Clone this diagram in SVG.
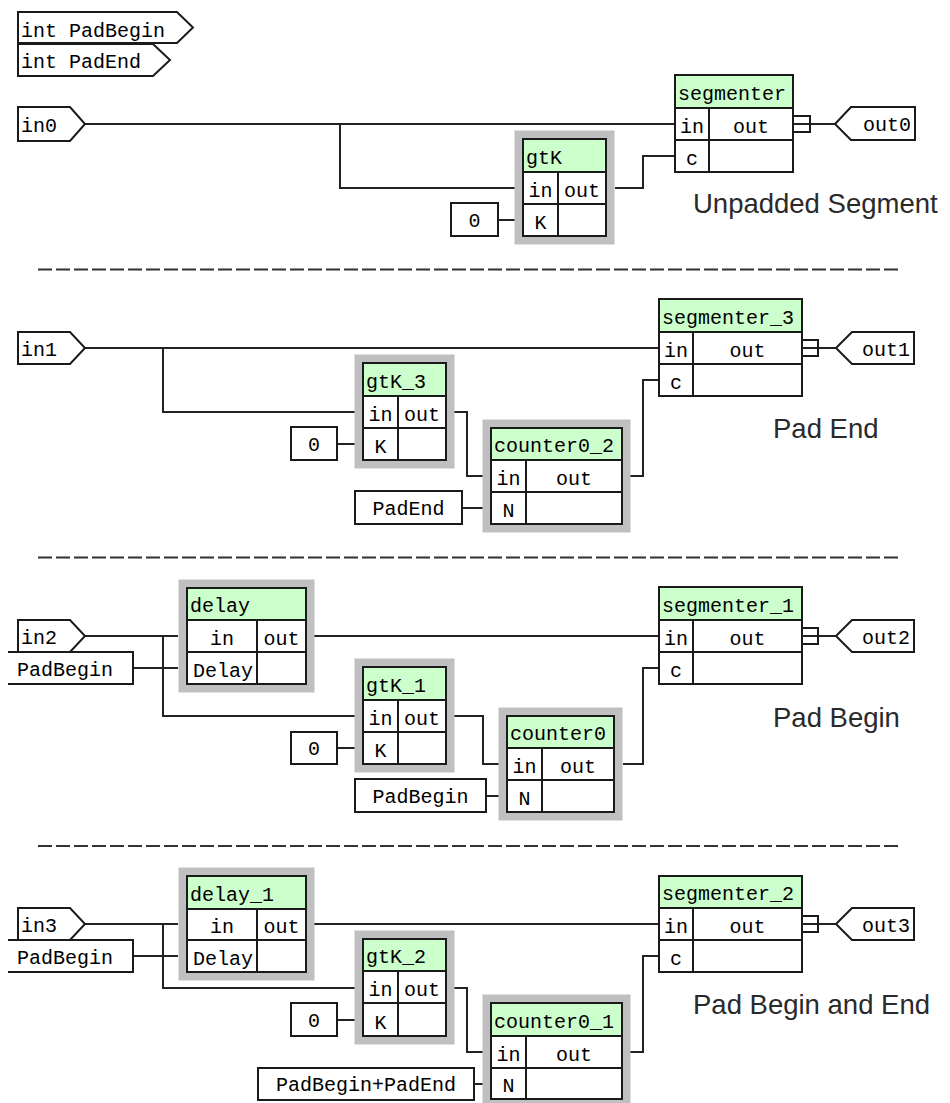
<svg xmlns="http://www.w3.org/2000/svg" width="950" height="1103" viewBox="0 0 950 1103">
<style>
.bg{fill:#fff}
.shd{fill:#c0c0c0}
.box{fill:#fff;stroke:#1a1a1a;stroke-width:2}
.hdr{fill:#ccffcc;stroke:#1a1a1a;stroke-width:2}
.ln{fill:none;stroke:#1a1a1a;stroke-width:2}
.w{fill:none;stroke:#222;stroke-width:2}
.dash{fill:none;stroke:#333;stroke-width:2.2;stroke-dasharray:14 4}
.m{font-family:"Liberation Mono","DejaVu Sans Mono",monospace;font-size:20px;fill:#000}
.c{text-anchor:middle}
.e{text-anchor:end}
.lbl{font-family:"Liberation Sans",Arial,sans-serif;font-size:27.5px;fill:#2a2a2a}
</style>
<rect class="bg" x="0" y="0" width="950" height="1103"/>

<g id="separators">
<path class="dash" d="M38,269.5 H898"/>
<path class="dash" d="M38,557.5 H898"/>
<path class="dash" d="M38,846 H898"/>
</g>

<g id="connectors">
<!-- section 1 -->
<path class="w" d="M85,124 H675"/>
<path class="w" d="M340,124 V188 H515"/>
<path class="w" d="M498,220 H515"/>
<path class="w" d="M615,188 H643 V156 H675"/>
<path class="w" d="M793,124 H835"/>
<!-- section 2 -->
<path class="w" d="M85,348 H659"/>
<path class="w" d="M163,348 V412 H355"/>
<path class="w" d="M337,444 H355"/>
<path class="w" d="M454,412 H467 V476 H483"/>
<path class="w" d="M462,508 H483"/>
<path class="w" d="M630,476 H643 V380 H659"/>
<path class="w" d="M802,348 H836"/>
<!-- section 3 -->
<path class="w" d="M85,636 H178"/>
<path class="w" d="M163,636 V716 H355"/>
<path class="w" d="M133,668 H178"/>
<path class="w" d="M314,636 H659"/>
<path class="w" d="M337,748 H355"/>
<path class="w" d="M454,716 H483 V764 H499"/>
<path class="w" d="M486,796 H499"/>
<path class="w" d="M623,764 H643 V668 H659"/>
<path class="w" d="M802,636 H836"/>
<!-- section 4 -->
<path class="w" d="M85,924 H178"/>
<path class="w" d="M163,924 V988 H355"/>
<path class="w" d="M133,956 H178"/>
<path class="w" d="M314,924 H659"/>
<path class="w" d="M337,1020 H355"/>
<path class="w" d="M454,988 H467 V1052 H483"/>
<path class="w" d="M474,1084 H483"/>
<path class="w" d="M630,1052 H643 V956 H659"/>
<path class="w" d="M802,924 H836"/>
</g>

<!-- parameter tags -->
<g id="param_PadBegin">
<polygon class="box" points="18,12 177,12 193,27.5 177,43 18,43"/>
<text class="m" x="21" y="37">int PadBegin</text>
</g>
<g id="param_PadEnd">
<polygon class="box" points="18,44 153,44 170,60 153,76 18,76"/>
<text class="m" x="21" y="68">int PadEnd</text>
</g>

<!-- ports -->
<g id="in0"><polygon class="box" points="18,107 70,107 85,124 70,141 18,141"/><text class="m" x="21" y="132">in0</text></g>
<g id="out0"><polygon class="box" points="835,124 851,107 915,107 915,140 851,140"/><text class="m e" x="911" y="131">out0</text></g>
<g id="in1"><polygon class="box" points="18,332 70,332 85,348 70,364 18,364"/><text class="m" x="21" y="356">in1</text></g>
<g id="out1"><polygon class="box" points="836,348 852,332 914,332 914,364 852,364"/><text class="m e" x="910" y="356">out1</text></g>
<g id="in2"><polygon class="box" points="18,620 70,620 85,636 70,652 18,652"/><text class="m" x="21" y="644">in2</text></g>
<g id="out2"><polygon class="box" points="836,636 852,620 914,620 914,652 852,652"/><text class="m e" x="910" y="644">out2</text></g>
<g id="in3"><polygon class="box" points="18,908 70,908 85,924 70,940 18,940"/><text class="m" x="21" y="932">in3</text></g>
<g id="out3"><polygon class="box" points="836,924 852,908 914,908 914,940 852,940"/><text class="m e" x="910" y="932">out3</text></g>

<!-- section 1 -->
<g id="segmenter">
<rect class="box" x="675" y="75" width="118" height="97"/>
<rect class="hdr" x="675" y="75" width="118" height="33"/>
<path class="ln" d="M675,140 H793 M709,108 V172"/>
<path class="ln" d="M793,116 H810 V132 H793"/>
<text class="m" x="678" y="100">segmenter</text>
<text class="m c" x="692" y="133">in</text>
<text class="m c" x="751" y="133">out</text>
<text class="m c" x="692" y="165">c</text>
</g>
<g id="gtK">
<rect class="shd" x="514.5" y="130.5" width="100" height="114"/>
<rect class="box" x="523" y="139" width="83" height="97"/>
<rect class="hdr" x="523" y="139" width="83" height="33"/>
<path class="ln" d="M523,204 H606 M558,172 V236"/>
<text class="m" x="526" y="164">gtK</text>
<text class="m c" x="540.5" y="197">in</text>
<text class="m c" x="582" y="197">out</text>
<text class="m c" x="540.5" y="229">K</text>
</g>
<g id="const_0_a"><rect class="box" x="451" y="203" width="47" height="33"/><text class="m c" x="474.5" y="227">0</text></g>
<text id="label_unpadded" class="lbl" x="693" y="213">Unpadded Segment</text>

<!-- section 2 -->
<g id="segmenter_3">
<rect class="box" x="659" y="299" width="143" height="97"/>
<rect class="hdr" x="659" y="299" width="143" height="33"/>
<path class="ln" d="M659,364 H802 M693,332 V396"/>
<path class="ln" d="M802,340 H818 V356 H802"/>
<text class="m" x="662" y="324">segmenter_3</text>
<text class="m c" x="676" y="357">in</text>
<text class="m c" x="747.5" y="357">out</text>
<text class="m c" x="676" y="389">c</text>
</g>
<g id="gtK_3">
<rect class="shd" x="354.5" y="354.5" width="100" height="114"/>
<rect class="box" x="363" y="363" width="83" height="97"/>
<rect class="hdr" x="363" y="363" width="83" height="33"/>
<path class="ln" d="M363,428 H446 M398,396 V460"/>
<text class="m" x="366" y="388">gtK_3</text>
<text class="m c" x="380.5" y="421">in</text>
<text class="m c" x="422" y="421">out</text>
<text class="m c" x="380.5" y="453">K</text>
</g>
<g id="const_0_b"><rect class="box" x="291" y="427" width="46" height="33"/><text class="m c" x="314" y="451">0</text></g>
<g id="counter0_2">
<rect class="shd" x="482.5" y="419.5" width="148" height="113"/>
<rect class="box" x="491" y="428" width="131" height="96"/>
<rect class="hdr" x="491" y="428" width="131" height="32"/>
<path class="ln" d="M491,492 H622 M526,460 V524"/>
<text class="m" x="494" y="452">counter0_2</text>
<text class="m c" x="508.5" y="485">in</text>
<text class="m c" x="574" y="485">out</text>
<text class="m c" x="508.5" y="517">N</text>
</g>
<g id="const_PadEnd"><rect class="box" x="355" y="491" width="107" height="33"/><text class="m c" x="408.5" y="515">PadEnd</text></g>
<text id="label_padend" class="lbl" x="773" y="438">Pad End</text>

<!-- section 3 -->
<g id="delay">
<rect class="shd" x="178.5" y="579.5" width="136" height="113"/>
<rect class="box" x="187" y="588" width="119" height="96"/>
<rect class="hdr" x="187" y="588" width="119" height="32"/>
<path class="ln" d="M187,652 H306 M257,620 V684"/>
<text class="m" x="190" y="612">delay</text>
<text class="m c" x="222" y="645">in</text>
<text class="m c" x="281.5" y="645">out</text>
<text class="m c" x="223" y="677">Delay</text>
</g>
<g id="const_PadBegin_a"><path class="box" d="M8,652 H133 V684 H8"/><text class="m" x="17" y="676">PadBegin</text></g>
<g id="segmenter_1">
<rect class="box" x="659" y="587" width="143" height="97"/>
<rect class="hdr" x="659" y="587" width="143" height="33"/>
<path class="ln" d="M659,652 H802 M693,620 V684"/>
<path class="ln" d="M802,628 H818 V644 H802"/>
<text class="m" x="662" y="612">segmenter_1</text>
<text class="m c" x="676" y="645">in</text>
<text class="m c" x="747.5" y="645">out</text>
<text class="m c" x="676" y="677">c</text>
</g>
<g id="gtK_1">
<rect class="shd" x="354.5" y="658.5" width="100" height="114"/>
<rect class="box" x="363" y="667" width="83" height="97"/>
<rect class="hdr" x="363" y="667" width="83" height="33"/>
<path class="ln" d="M363,732 H446 M398,700 V764"/>
<text class="m" x="366" y="692">gtK_1</text>
<text class="m c" x="380.5" y="725">in</text>
<text class="m c" x="422" y="725">out</text>
<text class="m c" x="380.5" y="757">K</text>
</g>
<g id="const_0_c"><rect class="box" x="291" y="732" width="46" height="32"/><text class="m c" x="314" y="755">0</text></g>
<g id="counter0">
<rect class="shd" x="498.5" y="707.5" width="124" height="113"/>
<rect class="box" x="507" y="716" width="107" height="96"/>
<rect class="hdr" x="507" y="716" width="107" height="32"/>
<path class="ln" d="M507,780 H614 M542,748 V812"/>
<text class="m" x="510" y="740">counter0</text>
<text class="m c" x="524.5" y="773">in</text>
<text class="m c" x="578" y="773">out</text>
<text class="m c" x="524.5" y="805">N</text>
</g>
<g id="const_PadBegin_b"><rect class="box" x="355" y="779" width="131" height="33"/><text class="m c" x="420.5" y="803">PadBegin</text></g>
<text id="label_padbegin" class="lbl" x="773" y="727">Pad Begin</text>

<!-- section 4 -->
<g id="delay_1">
<rect class="shd" x="178.5" y="867.5" width="136" height="113"/>
<rect class="box" x="187" y="876" width="119" height="96"/>
<rect class="hdr" x="187" y="876" width="119" height="33"/>
<path class="ln" d="M187,940 H306 M257,909 V972"/>
<text class="m" x="190" y="901">delay_1</text>
<text class="m c" x="222" y="933">in</text>
<text class="m c" x="281.5" y="933">out</text>
<text class="m c" x="223" y="965">Delay</text>
</g>
<g id="const_PadBegin_c"><path class="box" d="M8,940 H133 V972 H8"/><text class="m" x="17" y="964">PadBegin</text></g>
<g id="segmenter_2">
<rect class="box" x="659" y="876" width="143" height="96"/>
<rect class="hdr" x="659" y="876" width="143" height="32"/>
<path class="ln" d="M659,940 H802 M693,908 V972"/>
<path class="ln" d="M802,916 H818 V932 H802"/>
<text class="m" x="662" y="900">segmenter_2</text>
<text class="m c" x="676" y="933">in</text>
<text class="m c" x="747.5" y="933">out</text>
<text class="m c" x="676" y="965">c</text>
</g>
<g id="gtK_2">
<rect class="shd" x="354.5" y="930.5" width="100" height="114"/>
<rect class="box" x="363" y="939" width="83" height="97"/>
<rect class="hdr" x="363" y="939" width="83" height="32"/>
<path class="ln" d="M363,1003 H446 M398,971 V1036"/>
<text class="m" x="366" y="963">gtK_2</text>
<text class="m c" x="380.5" y="996">in</text>
<text class="m c" x="422" y="996">out</text>
<text class="m c" x="380.5" y="1029">K</text>
</g>
<g id="const_0_d"><rect class="box" x="291" y="1003" width="46" height="33"/><text class="m c" x="314" y="1027">0</text></g>
<g id="counter0_1">
<rect class="shd" x="482.5" y="994.5" width="148" height="113"/>
<rect class="box" x="491" y="1003" width="131" height="96"/>
<rect class="hdr" x="491" y="1003" width="131" height="33"/>
<path class="ln" d="M491,1068 H622 M526,1036 V1099"/>
<text class="m" x="494" y="1028">counter0_1</text>
<text class="m c" x="508.5" y="1061">in</text>
<text class="m c" x="574" y="1061">out</text>
<text class="m c" x="508.5" y="1092">N</text>
</g>
<g id="const_PadBeginPadEnd"><rect class="box" x="258" y="1068" width="216" height="32"/><text class="m c" x="366" y="1091">PadBegin+PadEnd</text></g>
<text id="label_padbeginend" class="lbl" x="693" y="1014">Pad Begin and End</text>
</svg>
